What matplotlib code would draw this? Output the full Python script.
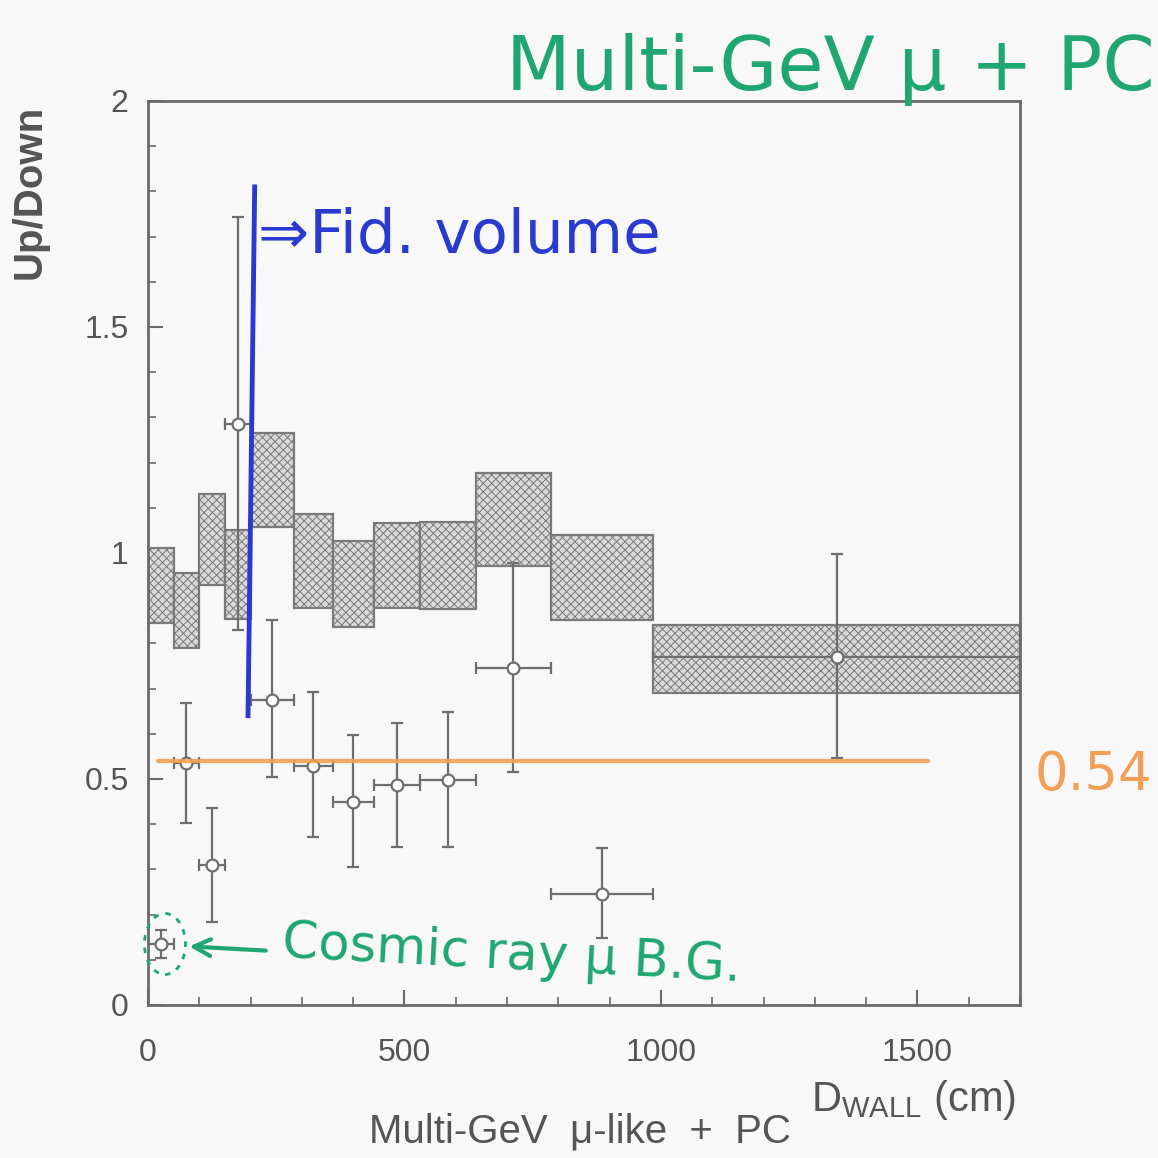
import matplotlib
matplotlib.use('Agg')
import matplotlib.pyplot as plt
from matplotlib.patches import Ellipse
from matplotlib.ticker import MultipleLocator
import numpy as np

plt.rcParams['font.family'] = ['Liberation Sans', 'DejaVu Sans']
plt.rcParams['mathtext.fontset'] = 'custom'
plt.rcParams['mathtext.rm'] = 'Liberation Sans'
plt.rcParams['hatch.linewidth'] = 0.7

# D_wall bins (cm)
bin_edges = [0, 50, 100, 150, 200, 285, 360, 440, 530, 640, 785, 985, 1700]

# MC expectation band (no oscillation), lower / upper edge per bin
mc_lo = [0.845, 0.790, 0.930, 0.855, 1.057, 0.878, 0.836, 0.878, 0.876, 0.971, 0.852, 0.690]
mc_hi = [1.010, 0.955, 1.130, 1.050, 1.265, 1.086, 1.027, 1.066, 1.068, 1.177, 1.040, 0.841]

# data: up/down ratio with asymmetric errors
updown = [0.135, 0.535, 0.310, 1.285, 0.675, 0.528, 0.449, 0.487, 0.497, 0.745, 0.246, 0.770]
err_up = [0.030, 0.133, 0.126, 0.458, 0.177, 0.164, 0.148, 0.137, 0.151, 0.233, 0.101, 0.228]
err_dn = [0.030, 0.132, 0.126, 0.455, 0.171, 0.156, 0.144, 0.137, 0.147, 0.229, 0.098, 0.224]

# hand-drawn notes
fid_cut = 200          # fiducial volume boundary (cm)
fid_span = (0.64, 1.81)
mean_ratio = 0.54
mean_span = (20, 1520)
cosmic_bin = 0

edges = np.array(bin_edges, dtype=float)
widths = np.diff(edges)
centers = edges[:-1] + widths / 2

fig = plt.figure(figsize=(11.58, 11.58), dpi=100, facecolor='#f8f8f8')
ax = fig.add_axes([148 / 1158, 1 - 1005 / 1158, 872 / 1158, 904 / 1158])
ax.set_facecolor('#f8f8f8')

# MC boxes
ax.bar(edges[:-1], np.array(mc_hi) - np.array(mc_lo), bottom=mc_lo, width=widths,
       align='edge', facecolor='#d9d9d9', edgecolor='#7a7a7a', hatch='xxxx',
       linewidth=1.6, zorder=2)

# data points
gray = '#6e6e6e'
ax.errorbar(centers, updown, xerr=widths / 2, yerr=[err_dn, err_up], fmt='o',
            ms=8.5, mfc='white', mec=gray, mew=1.6, ecolor=gray,
            elinewidth=1.6, capsize=4, capthick=1.6, zorder=3)

# average up/down line
ax.plot(mean_span, [mean_ratio, mean_ratio], color='#f5a04e', lw=3, alpha=0.9,
        solid_capstyle='round', zorder=4)
fig.text(1034 / 1158, 1 - 775 / 1158, f'{mean_ratio:.2f}', color='#f2a055',
         fontsize=38, family='DejaVu Sans', va='center', ha='left')

# fiducial volume cut
ax.plot([fid_cut + 8, fid_cut - 5], [fid_span[1], fid_span[0]], color='#2a3ad0',
        lw=3.5, zorder=5)
ax.text(fid_cut + 14, 1.7, '⇒Fid. volume', color='#2a3ad0', fontsize=44,
        family='DejaVu Sans', va='center', ha='left', zorder=5)

# cosmic ray background marker
ax.add_patch(Ellipse((centers[cosmic_bin] + 8, updown[cosmic_bin]), 80, 0.135,
                     fill=False, ls=(0, (2, 2.5)), lw=2, edgecolor='#1fa672',
                     zorder=5, clip_on=False))
ax.annotate('', xy=(centers[cosmic_bin] + 50, updown[cosmic_bin] - 0.005),
            xytext=(235, updown[cosmic_bin] - 0.015),
            arrowprops=dict(arrowstyle='->', color='#1fa672', lw=3,
                            mutation_scale=30), zorder=5)
ax.text(260, 0.11, 'Cosmic ray μ B.G.', color='#1fa672', fontsize=37,
        family='DejaVu Sans', va='center', ha='left', rotation=-3, zorder=5)

# axes
ax.set_xlim(0, 1700)
ax.set_ylim(0, 2)
ax.xaxis.set_major_locator(MultipleLocator(500))
ax.xaxis.set_minor_locator(MultipleLocator(100))
ax.yaxis.set_major_locator(MultipleLocator(0.5))
ax.yaxis.set_minor_locator(MultipleLocator(0.1))
ax.set_yticks([0, 0.5, 1, 1.5, 2], ['0', '0.5', '1', '1.5', '2'])
ax.tick_params(which='both', direction='in', color='#6a6a6a', labelcolor='#555555',
               labelsize=23)
ax.tick_params(which='major', length=11, width=1.5)
ax.tick_params(which='minor', length=6, width=1.2)
ax.tick_params(axis='x', pad=24)
ax.tick_params(axis='y', pad=14)
for s in ax.spines.values():
    s.set_color('#6a6a6a')
    s.set_linewidth(2)

fig.text(30 / 1158, 1 - 192 / 1158, 'Up/Down', rotation=90, ha='center',
         va='center', fontsize=29, fontweight='bold', color='#555555')
fig.text(1016 / 1158, 1 - 1100 / 1158, r'D$_{\rm WALL}$ (cm)', ha='right',
         va='center', fontsize=30, color='#555555')
fig.text(580 / 1158, 1 - 1132 / 1158, 'Multi-GeV  μ-like  +  PC', ha='center',
         va='center', fontsize=29, color='#555555')

# title note
fig.text(506 / 1158, 1 - 90 / 1158, 'Multi-GeV μ + PC', color='#1fa672',
         fontsize=54, family='DejaVu Sans', ha='left', va='baseline')

fig.savefig('out.png', dpi=100, facecolor=fig.get_facecolor())
